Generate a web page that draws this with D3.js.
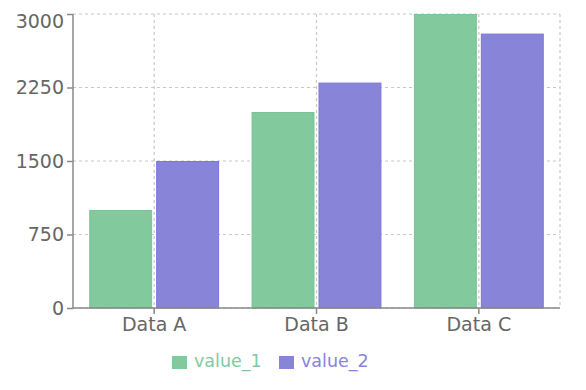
<!DOCTYPE html>
<html>
<head>
<meta charset="utf-8">
<script src="https://cdn.jsdelivr.net/npm/d3@7"></script>
<style>
  body { margin: 0; background: #fff; }
  text { font-family: "DejaVu Sans", sans-serif; }
</style>
</head>
<body>
<svg id="chart" width="586" height="390"></svg>
<script>
const categories = ['Data A', 'Data B', 'Data C'];
const value1 = [1000, 2000, 3000];
const value2 = [1500, 2300, 2800];
const yTicks = [0, 750, 1500, 2250, 3000];
const seriesNames = ['value_1', 'value_2'];
const seriesColors = ['#82ca9d', '#8884d8'];
const seriesStroke = ['#78c495', '#7b77d9'];

const svg = d3.select('#chart');
const plotLeft = 73, plotRight = 560, plotTop = 14, plotBottom = 308;

let x = d3.scaleBand().domain(categories).range([plotLeft, plotRight]);
let y = d3.scaleLinear().domain([0, 3000]).range([plotBottom, plotTop]);

///// grid /////
let grid = svg.append('g').attr('stroke', '#c8c8c8').attr('stroke-dasharray', '3 3').attr('stroke-width', 1.2);
grid.selectAll('.h').data(yTicks).enter().append('line')
  .attr('x1', plotLeft).attr('x2', plotRight)
  .attr('y1', d => y(d)).attr('y2', d => y(d));
let vx = categories.map(c => x(c) + x.bandwidth() / 2).concat([plotRight]);
grid.selectAll('.v').data(vx).enter().append('line')
  .attr('x1', d => d).attr('x2', d => d)
  .attr('y1', plotTop).attr('y2', plotBottom);

///// bars /////
let gap = x.bandwidth() * 0.1;
let barW = (x.bandwidth() - 2 * gap - 4) / 2;
let series = [value1, value2];
series.forEach((vals, s) => {
  svg.append('g').selectAll('rect').data(vals).enter().append('rect')
    .attr('x', (d, i) => x(categories[i]) + gap + s * (barW + 4) + 0.5)
    .attr('y', d => y(d) + 0.5)
    .attr('width', barW - 1)
    .attr('height', d => plotBottom - y(d) - 0.5)
    .attr('fill', seriesColors[s])
    .attr('stroke', seriesStroke[s]);
});

///// axes /////
let yAxis = svg.append('g').attr('transform', 'translate(' + plotLeft + ',0)')
  .call(d3.axisLeft(y).tickValues(yTicks).tickFormat(d3.format('d')).tickSize(6).tickPadding(3));
let xAxis = svg.append('g').attr('transform', 'translate(0,' + plotBottom + ')')
  .call(d3.axisBottom(x).tickSize(6).tickPadding(4));

[yAxis, xAxis].forEach(a => {
  a.select('.domain').attr('stroke', '#888').attr('stroke-width', 1.5);
  a.selectAll('.tick line').attr('stroke', '#888').attr('stroke-width', 1.5);
  a.selectAll('.tick text').attr('fill', '#666').style('font-size', '19px')
    .style('font-family', '"DejaVu Sans", sans-serif');
});
xAxis.select('.domain').attr('d', 'M' + plotLeft + ',0H' + plotRight);
yAxis.select('.domain').attr('d', 'M0,' + plotTop + 'V' + plotBottom);
// top label sits a little lower than its tick
yAxis.selectAll('.tick text').filter(d => d === 3000).attr('dy', '0.7em');

///// legend /////
let legend = svg.append('g');
let legendX = [172, 279];
seriesNames.forEach((name, i) => {
  legend.append('rect')
    .attr('x', legendX[i]).attr('y', 356)
    .attr('width', 15).attr('height', 13)
    .attr('fill', seriesColors[i]);
  legend.append('text')
    .attr('x', legendX[i] + 22).attr('y', 367)
    .attr('fill', seriesColors[i])
    .style('font-size', '17.5px')
    .text(name);
});
</script>
</body>
</html>
